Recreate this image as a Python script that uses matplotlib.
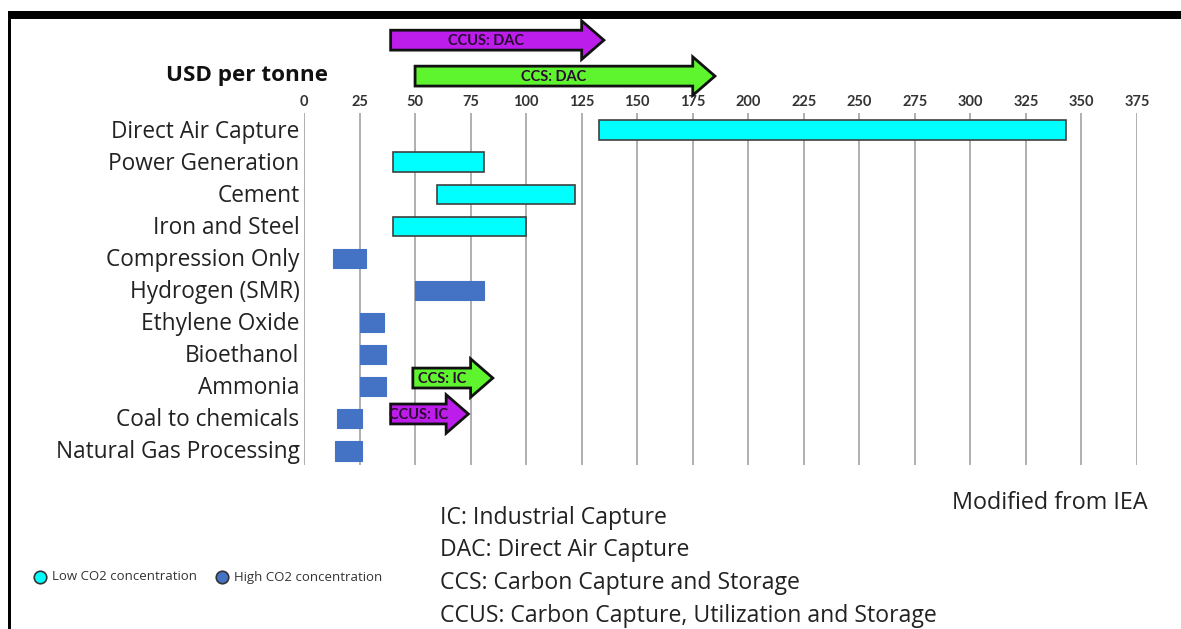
import matplotlib
matplotlib.use("Agg")
import matplotlib.pyplot as plt
import matplotlib.patches as mpatches
from matplotlib.lines import Line2D

plt.rcParams['font.family'] = ['Open Sans', 'DejaVu Sans']

# capture cost ranges, USD per tonne CO2
sectors = ["Direct Air Capture", "Power Generation", "Cement", "Iron and Steel",
           "Compression Only", "Hydrogen (SMR)", "Ethylene Oxide", "Bioethanol",
           "Ammonia", "Coal to chemicals", "Natural Gas Processing"]
cost_low = [133, 40, 60, 40, 13, 50, 25, 25, 25, 15, 14]
cost_high = [343, 81, 122, 100, 28, 81, 36, 37, 37, 26, 26]
low_conc = [True, True, True, True, False, False, False, False, False, False, False]

# price ranges shown as arrows: label, start, tip, row position
arrow_labels = ["CCUS: DAC", "CCS: DAC", "CCS: IC", "CCUS: IC"]
arrow_start = [39, 50, 49, 39]
arrow_end = [135, 185, 85, 74]
arrow_row = [-2.8, -1.68, 7.73, 8.85]
arrow_color = ["#BD1DEB", "#5EF52E", "#5EF52E", "#BD1DEB"]

ticks = list(range(0, 400, 25))

cyan = "#00FFFF"
blue = "#4472C4"
condensed = ['Lato', 'DejaVu Sans']

fig = plt.figure(figsize=(11.81, 6.29), dpi=100)
ax = fig.add_axes([304 / 1181, 1 - 465 / 629, (1137 - 304) / 1181, 352 / 629])

ax.set_xlim(0, 375)
ax.set_ylim(10.44, -0.53)
for s in ax.spines.values():
    s.set_visible(False)
ax.set_xticks(ticks)
ax.tick_params(axis='x', top=True, bottom=False, labeltop=True, labelbottom=False,
               length=0, pad=3, labelsize=10.5, labelcolor="#333333")
for lab in ax.get_xticklabels():
    lab.set_fontweight("bold")
    lab.set_family(condensed)
ax.set_yticks([])
for t in ticks:
    ax.axvline(t, color="#9a9a9a", lw=1.1, zorder=0)

for i, name in enumerate(sectors):
    lo, hi = cost_low[i], cost_high[i]
    if low_conc[i]:
        ax.barh(i, hi - lo, left=lo, height=0.6, color=cyan,
                edgecolor="#404040", lw=1.2, zorder=3)
    else:
        ax.barh(i, hi - lo, left=lo, height=0.6, color=blue,
                edgecolor=blue, lw=0.8, zorder=3)
    ax.text(-2, i + 0.05, name, ha="right", va="center", fontsize=16.3,
            color="#222222", clip_on=False)

for lab, x0, x1, y, c in zip(arrow_labels, arrow_start, arrow_end, arrow_row, arrow_color):
    hl = 10
    arr = mpatches.FancyArrow(x0, y, x1 - x0, 0, width=0.62, head_width=1.2,
                              head_length=hl, length_includes_head=True,
                              facecolor=c, edgecolor="#111111", lw=2,
                              clip_on=False, zorder=5)
    ax.add_patch(arr)
    ax.text(x0 + (x1 - x0 - hl) / 2, y + 0.02, lab, ha="center", va="center",
            fontsize=10.5, fontweight="bold", color="#2a0a30", family=condensed,
            zorder=6, clip_on=False)

fig.text(166 / 1181, 1 - 76 / 629, "USD per tonne", fontsize=16.2, fontweight="bold",
         color="#111111", va="center", ha="left")

fig.text(1148 / 1181, 1 - 503 / 629, "Modified from IEA", fontsize=16.8,
         color="#222222", ha="right", va="center")

notes = ["IC: Industrial Capture", "DAC: Direct Air Capture",
         "CCS: Carbon Capture and Storage", "CCUS: Carbon Capture, Utilization and Storage"]
for k, line in enumerate(notes):
    fig.text(440 / 1181, 1 - (518 + k * 32.5) / 629, line, fontsize=16.6,
             color="#222222", ha="left", va="center")

# legend dots
for px, c, txt in [(40, cyan, "Low CO2 concentration"), (222, blue, "High CO2 concentration")]:
    fig.add_artist(Line2D([px / 1181], [1 - 577 / 629], marker="o", markersize=9,
                          markerfacecolor=c, markeredgecolor="#333333", mew=1.2,
                          transform=fig.transFigure))
    fig.text((px + 12) / 1181, 1 - 577 / 629, txt, fontsize=9.5, color="#333333",
             ha="left", va="center")

# black frame along the top and left edge
fig.add_artist(mpatches.Rectangle((8 / 1181, 1 - 19 / 629), 1, 8 / 629,
                                  facecolor="black", edgecolor="none",
                                  transform=fig.transFigure))
fig.add_artist(mpatches.Rectangle((8 / 1181, 0), 3 / 1181, 1 - 11 / 629,
                                  facecolor="black", edgecolor="none",
                                  transform=fig.transFigure))

fig.savefig("out.png", dpi=100, facecolor="white")
